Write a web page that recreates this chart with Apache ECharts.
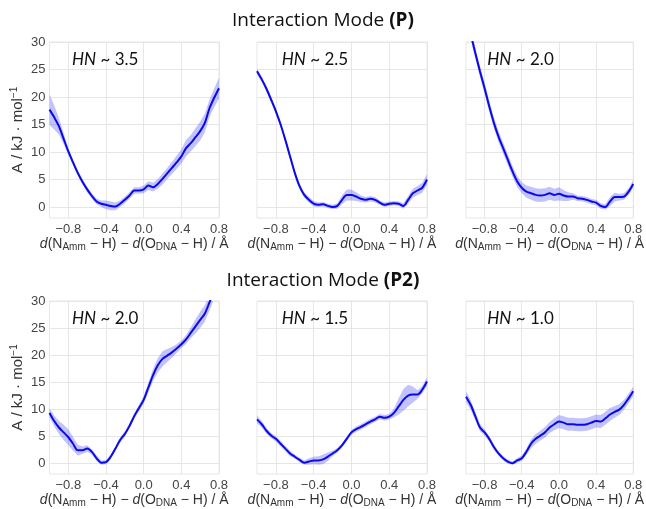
<!DOCTYPE html>
<html>
<head>
<meta charset="utf-8">
<script src="https://cdn.jsdelivr.net/npm/echarts@6/dist/echarts.min.js"></script>
<style>
  html, body { margin: 0; padding: 0; background: #fff; }
  #chart { width: 646px; height: 509px; }
</style>
</head>
<body>
<div id="chart"></div>
<script>
// reaction coordinate d(N-H) - d(O-H), Å
const xs = [-1.0, -0.95, -0.9, -0.85, -0.8, -0.75, -0.7, -0.65, -0.6, -0.55, -0.5, -0.45, -0.4, -0.35, -0.3, -0.25, -0.2, -0.15, -0.1, -0.05,
  0.0, 0.05, 0.1, 0.15, 0.2, 0.25, 0.3, 0.35, 0.4, 0.45, 0.5, 0.55, 0.6, 0.65, 0.7, 0.75, 0.8];

// mode P
const freeP_35 = [17.7, 16.3, 14.7, 12.4, 10.1, 8.1, 6.2, 4.6, 3.2, 2.0, 1.0, 0.6, 0.4, 0.2, 0.1, 0.6, 1.3, 2.1, 3.0, 3.0,
  3.2, 3.9, 3.6, 4.2, 5.1, 6.1, 7.1, 8.1, 9.2, 10.7, 11.6, 12.7, 13.8, 15.3, 18.0, 19.9, 21.6];
const errP_35 = [2.8, 2.2, 1.5, 1.0, 0.6, 0.5, 0.5, 0.5, 0.5, 0.5, 0.5, 0.6, 0.8, 0.8, 0.7, 0.6, 0.6, 0.6, 0.6, 0.6,
  0.7, 0.8, 0.8, 0.9, 1.0, 1.0, 1.1, 1.2, 1.3, 1.5, 1.5, 1.6, 1.7, 1.7, 1.6, 1.7, 1.9];

const freeP_25 = [24.7, 23.2, 21.5, 19.5, 17.4, 15.0, 12.2, 9.2, 6.2, 3.8, 2.2, 1.3, 0.6, 0.4, 0.5, 0.2, 0.0, 0.2, 1.3, 2.2,
  2.2, 1.9, 1.5, 1.3, 1.5, 1.3, 0.8, 0.4, 0.6, 0.7, 0.6, 0.2, 1.3, 2.5, 3.0, 3.5, 5.0];
const errP_25 = [0.5, 0.5, 0.5, 0.5, 0.5, 0.5, 0.5, 0.5, 0.5, 0.5, 0.5, 0.5, 0.5, 0.4, 0.4, 0.4, 0.4, 0.5, 0.8, 1.0,
  1.0, 0.8, 0.6, 0.5, 0.5, 0.5, 0.4, 0.4, 0.4, 0.4, 0.4, 0.5, 0.7, 0.8, 0.8, 0.9, 1.0];

const freeP_20 = [34.5, 31.5, 28.0, 24.7, 21.6, 18.3, 15.3, 12.8, 10.7, 8.6, 6.5, 4.7, 3.5, 2.8, 2.5, 2.2, 2.1, 2.2, 2.5, 2.2,
  2.4, 2.1, 1.9, 1.9, 1.6, 1.5, 1.3, 1.0, 0.8, 0.2, 0.0, 1.0, 1.8, 1.8, 1.9, 2.8, 4.2];
const errP_20 = [1.0, 1.0, 1.0, 1.0, 1.0, 1.0, 1.0, 1.0, 1.0, 1.0, 1.0, 1.0, 1.0, 1.1, 1.2, 1.2, 1.2, 1.2, 1.2, 1.1,
  1.2, 1.0, 0.8, 0.6, 0.5, 0.5, 0.5, 0.5, 0.5, 0.5, 0.5, 0.8, 0.8, 0.6, 0.6, 0.6, 0.7];

// mode P2
const freeP2_20 = [9.3, 7.8, 6.6, 5.7, 4.8, 3.6, 2.4, 2.4, 2.7, 2.1, 0.9, 0.1, 0.2, 1.2, 2.7, 4.3, 5.4, 6.9, 8.7, 10.2,
  11.7, 14.0, 16.3, 18.1, 19.3, 19.9, 20.5, 21.2, 22.0, 22.9, 24.1, 25.3, 26.5, 27.7, 29.8, 32.0, 34.0];
const errP2_20 = [0.8, 1.0, 1.2, 1.4, 1.5, 1.3, 1.0, 0.7, 0.6, 0.5, 0.5, 0.4, 0.4, 0.4, 0.4, 0.5, 0.5, 0.5, 0.5, 0.6,
  0.7, 0.9, 1.1, 1.3, 1.4, 1.2, 1.0, 0.8, 0.7, 0.8, 1.0, 1.3, 1.5, 1.5, 1.5, 1.5, 1.5];

const freeP2_15 = [8.1, 7.2, 6.0, 5.1, 4.5, 3.6, 2.7, 1.8, 1.2, 0.6, 0.1, 0.3, 0.5, 0.5, 0.7, 1.2, 1.8, 2.4, 3.3, 4.5,
  5.7, 6.3, 6.7, 7.2, 7.7, 8.1, 8.6, 8.4, 8.6, 9.3, 10.5, 11.7, 12.5, 12.7, 12.7, 13.6, 15.1];
const errP2_15 = [0.7, 0.6, 0.5, 0.5, 0.5, 0.5, 0.5, 0.5, 0.4, 0.4, 0.4, 0.6, 0.7, 0.8, 0.9, 0.8, 0.5, 0.4, 0.4, 0.4,
  0.5, 0.5, 0.5, 0.5, 0.5, 0.5, 0.5, 0.5, 0.5, 0.8, 1.5, 2.0, 2.0, 1.5, 0.8, 0.7, 0.8];

const freeP2_10 = [12.3, 10.8, 8.7, 6.6, 5.7, 4.5, 3.0, 1.8, 0.9, 0.3, 0.0, 0.5, 0.9, 2.1, 3.6, 4.5, 5.1, 5.7, 6.6, 7.2,
  7.7, 7.5, 7.2, 7.2, 7.1, 7.1, 7.2, 7.5, 7.8, 7.7, 8.3, 9.0, 9.5, 9.9, 10.8, 12.0, 13.3];
const errP2_10 = [1.0, 0.9, 0.8, 0.7, 0.6, 0.5, 0.5, 0.4, 0.4, 0.4, 0.3, 0.4, 0.5, 0.6, 0.8, 0.9, 0.9, 1.0, 1.0, 1.1,
  1.2, 1.2, 1.2, 1.2, 1.2, 1.2, 1.2, 1.2, 1.2, 1.2, 1.2, 1.2, 1.1, 1.0, 0.9, 0.9, 0.9];

const hnLabels = ['3.5', '2.5', '2.0', '2.0', '1.5', '1.0'];
const yTicks = [0, 5, 10, 15, 20, 25, 30];
const xTicks = [-0.8, -0.4, 0, 0.4, 0.8];

const panels = [
  { mean: freeP_35, err: errP_35 },
  { mean: freeP_25, err: errP_25 },
  { mean: freeP_20, err: errP_20 },
  { mean: freeP2_20, err: errP2_20 },
  { mean: freeP2_15, err: errP2_15 },
  { mean: freeP2_10, err: errP2_10 }
];

const gridBoxes = [
  { left: 49.5, top: 42, width: 169.5, height: 176 },
  { left: 257, top: 42, width: 170, height: 176 },
  { left: 466, top: 42, width: 168.5, height: 176 },
  { left: 49.5, top: 301, width: 169.5, height: 177 },
  { left: 257, top: 301, width: 170, height: 177 },
  { left: 466, top: 301, width: 168.5, height: 177 }
];
const hnOffset = [17.5, 19.7, 16.3, 17.5, 19.7, 16.3];

const labelFont = 'Liberation Sans';
const calFont = 'Lato';
const headFont = 'Open Sans';
const gridColor = '#e6e6e6';

const fmtX = v => v.toFixed(1).replace('-', '\u2212');

const xName = '{i|d}(N{sub|Amm} \u2212 H) \u2212 {i|d}(O{sub|DNA} \u2212 H) / \u00c5';
const yName = 'A / kJ \u00b7 mol{sup|\u22121}';

// shaded uncertainty band, drawn once per panel through the axis scales
const makeBand = (mean, err) => (params, api) => {
  if (params.dataIndex !== 0) return null;
  const upper = xs.map((x, k) => api.coord([x, mean[k] + err[k]]));
  const lower = xs.map((x, k) => api.coord([x, mean[k] - err[k]])).reverse();
  return {
    type: 'polygon',
    shape: { points: upper.concat(lower) },
    style: { fill: 'rgba(60, 60, 245, 0.31)' }
  };
};

const grid = [], xAxis = [], yAxis = [], series = [], title = [];

[['Interaction Mode {b|(P)}', 6], ['Interaction Mode {b|(P2)}', 266]].forEach(([t, top]) => {
  title.push({
    text: t, left: 'center', top: top,
    textStyle: { fontFamily: headFont, fontSize: 19, fontWeight: 'normal', color: '#111',
      rich: { b: { fontFamily: headFont, fontSize: 19, fontWeight: 'bold', color: '#111' } } }
  });
});

panels.forEach((p, i) => {
  const g = gridBoxes[i];
  grid.push(Object.assign({ show: true, borderColor: gridColor, borderWidth: 1, backgroundColor: '#fff' }, g));
  xAxis.push({
    type: 'value', gridIndex: i, min: -1.0, max: 0.8,
    axisLine: { show: false },
    axisTick: { show: false, customValues: xTicks },
    splitLine: { show: true, lineStyle: { color: gridColor, width: 1 } },
    axisLabel: { customValues: xTicks, formatter: fmtX, fontFamily: labelFont, fontSize: 13, color: '#444', margin: 5 },
    name: xName, nameLocation: 'middle', nameGap: 18,
    nameTextStyle: {
      fontFamily: labelFont, fontSize: 14, color: '#333',
      rich: {
        i: { fontFamily: labelFont, fontSize: 14, fontStyle: 'italic', color: '#333' },
        sub: { fontFamily: labelFont, fontSize: 10, color: '#333', verticalAlign: 'bottom', padding: [6, 0, 0, 0] }
      }
    }
  });
  yAxis.push({
    type: 'value', gridIndex: i, min: -2, max: 30,
    axisLine: { show: false },
    axisTick: { show: false, customValues: yTicks },
    splitLine: { show: true, lineStyle: { color: gridColor, width: 1 } },
    axisLabel: { show: i % 3 === 0, customValues: yTicks, fontFamily: labelFont, fontSize: 13, color: '#444', margin: 4 },
    name: i % 3 === 0 ? yName : '', nameLocation: 'middle', nameGap: 23,
    nameTextStyle: {
      fontFamily: labelFont, fontSize: 15, color: '#333',
      rich: { sup: { fontFamily: labelFont, fontSize: 10, color: '#333', verticalAlign: 'top', padding: [0, 0, 7, 0] } }
    }
  });

  series.push({
    type: 'custom', xAxisIndex: i, yAxisIndex: i, clip: true, silent: true, z: 1,
    data: xs.map((x, k) => [x, p.mean[k]]),
    renderItem: makeBand(p.mean, p.err)
  });
  series.push({
    type: 'line', xAxisIndex: i, yAxisIndex: i, data: xs.map((x, k) => [x, p.mean[k]]),
    smooth: 0.3, symbol: 'none', lineStyle: { color: '#0a0ae8', width: 2 }, z: 3
  });

  title.push({
    text: '{i|HN} ~ ' + hnLabels[i], left: g.left + hnOffset[i], top: g.top + 4,
    textStyle: {
      fontFamily: calFont, fontSize: 17, fontWeight: 'normal', color: '#111',
      rich: { i: { fontFamily: calFont, fontSize: 17, fontStyle: 'italic', color: '#111' } }
    }
  });
});

const chart = echarts.init(document.getElementById('chart'));
chart.setOption({
  animation: false,
  backgroundColor: '#fff',
  title: title,
  grid: grid,
  xAxis: xAxis,
  yAxis: yAxis,
  series: series
});
</script>
</body>
</html>
